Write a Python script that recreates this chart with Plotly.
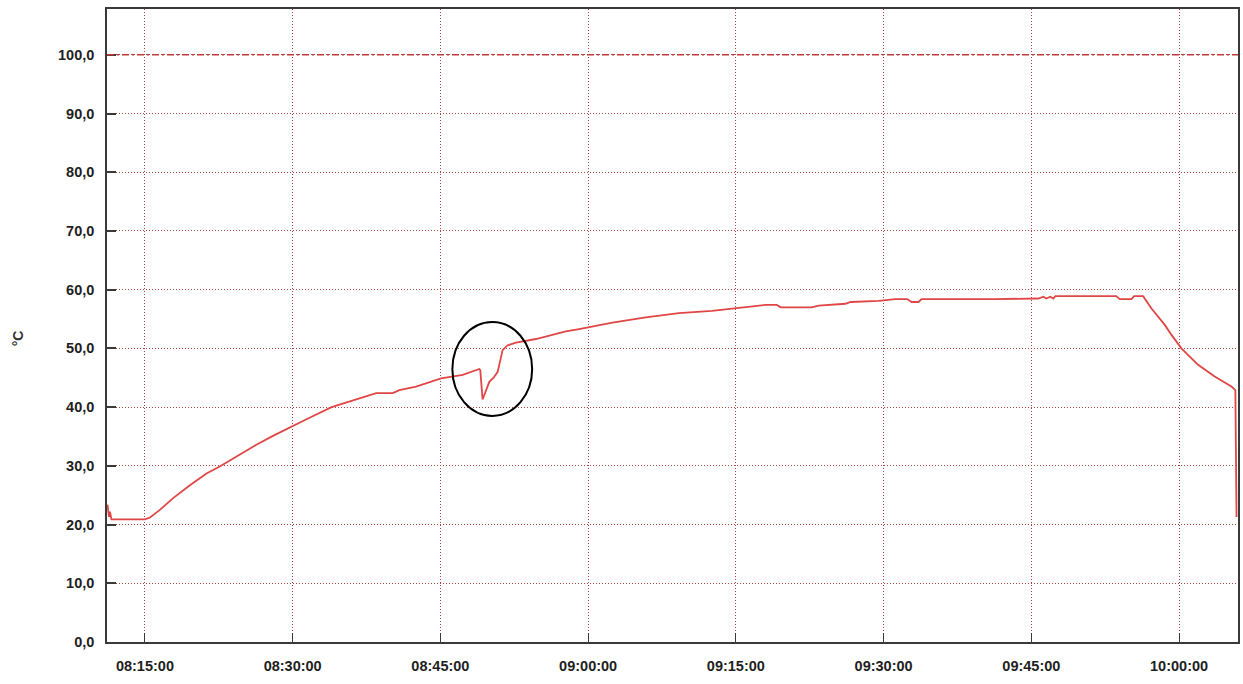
import plotly.graph_objects as go

# Logged temperature readings (time of day, °C)
times = [
    "08:11:12", "08:11:21", "08:11:27", "08:11:36", "08:15:00", "08:15:31",
    "08:16:31", "08:17:52", "08:19:34", "08:21:15", "08:22:36", "08:24:38",
    "08:26:19", "08:28:00", "08:29:52", "08:31:43", "08:33:57", "08:36:28",
    "08:38:29", "08:40:10", "08:40:50", "08:42:32", "08:43:53", "08:45:04",
    "08:47:16", "08:48:27", "08:48:57", "08:49:03", "08:49:17", "08:49:58",
    "08:50:24", "08:50:49", "08:51:19", "08:51:48", "08:52:40", "08:54:42",
    "08:57:44", "08:59:05", "09:02:28", "09:05:51", "09:09:13", "09:12:34",
    "09:14:58", "09:18:01", "09:19:09", "09:19:34", "09:22:42", "09:23:25",
    "09:26:07", "09:26:40", "09:29:30", "09:31:11", "09:32:24", "09:32:50",
    "09:33:33", "09:33:51", "09:41:19", "09:45:43", "09:46:13", "09:46:31",
    "09:46:56", "09:47:14", "09:47:26", "09:53:37", "09:53:59", "09:55:10",
    "09:55:26", "09:56:21", "09:57:12", "09:57:54", "09:58:33", "09:59:14",
    "10:00:14", "10:01:56", "10:03:37", "10:05:19", "10:05:43", "10:05:50",
]
temps = [
    23.4, 21.3, 22.2, 20.9, 20.9, 21.2,
    22.5, 24.5, 26.7, 28.7, 29.9, 31.9,
    33.6, 35.1, 36.7, 38.2, 40.0, 41.3,
    42.4, 42.4, 42.9, 43.5, 44.3, 44.9,
    45.5, 46.3, 46.5, 46.3, 41.3, 44.3,
    45.0, 46.0, 49.7, 50.5, 51.0, 51.6,
    52.9, 53.3, 54.4, 55.3, 56.0, 56.4,
    56.8, 57.4, 57.4, 57.0, 57.0, 57.3,
    57.6, 57.9, 58.1, 58.4, 58.4, 57.9,
    57.9, 58.4, 58.4, 58.5, 58.8, 58.5,
    58.8, 58.5, 58.9, 58.9, 58.4, 58.4,
    58.9, 58.9, 56.8, 55.3, 54.0, 52.3,
    50.0, 47.2, 45.2, 43.5, 42.9, 21.3,
]

limit_value = 100.0
x_ticks = ["08:15:00", "08:30:00", "08:45:00", "09:00:00",
           "09:15:00", "09:30:00", "09:45:00", "10:00:00"]
y_ticks = [0, 10, 20, 30, 40, 50, 60, 70, 80, 90, 100]
x_window = ["08:11:09", "10:05:59"]
y_window = [0, 107.8]

# Marked region around the dip
mark_x = ["08:46:13", "08:54:19"]
mark_y = [38.5, 54.5]

DAY = "2024-01-01 "


def ts(t):
    return DAY + t


grid_col = "#a84444"
axis_col = "#3a3a3a"
tick_font = dict(family="Liberation Sans, Arial, sans-serif", size=14.5,
                 color="#1e1e1e", weight="bold")

fig = go.Figure()
fig.add_trace(go.Scatter(
    x=[ts(t) for t in times], y=temps, mode="lines",
    line=dict(color="#e04646", width=1.8), showlegend=False,
))

fig.add_shape(type="line", xref="paper", x0=0, x1=1, yref="y",
              y0=limit_value, y1=limit_value,
              line=dict(color="#c03a3a", width=1.6, dash="7px,3px,2px,3px"))

fig.add_shape(type="circle", xref="x", yref="y",
              x0=ts(mark_x[0]), x1=ts(mark_x[1]), y0=mark_y[0], y1=mark_y[1],
              line=dict(color="black", width=2))

fig.add_annotation(text="°C", xref="paper", yref="paper",
                   x=(18 - 107) / 1133, y=0.48, showarrow=False,
                   textangle=-90, xanchor="center", yanchor="middle",
                   font=dict(family="Liberation Sans, Arial, sans-serif",
                             size=14, color="#333333", weight="bold"))

fig.update_layout(
    width=1243, height=684,
    margin=dict(l=107, r=3, t=9, b=42),
    paper_bgcolor="white", plot_bgcolor="white",
    separators=",.",
)

fig.update_xaxes(
    type="date",
    range=[ts(x_window[0]), ts(x_window[1])],
    tickvals=[ts(t) for t in x_ticks], ticktext=x_ticks,
    tickfont=tick_font, ticklabelstandoff=10,
    showline=True, linecolor=axis_col, linewidth=1.5, mirror=True,
    ticks="inside", ticklen=9, tickcolor=axis_col, tickwidth=1.2,
    showgrid=True, gridcolor=grid_col, griddash="1px,2px", gridwidth=1.2,
    zeroline=False,
)
fig.update_yaxes(
    range=y_window, tickvals=y_ticks, tickformat=".1f",
    tickfont=tick_font, ticklabelstandoff=8,
    showline=True, linecolor=axis_col, linewidth=1.5, mirror=True,
    ticks="inside", ticklen=9, tickcolor=axis_col, tickwidth=1.5,
    showgrid=True, gridcolor=grid_col, griddash="1px,2px", gridwidth=1.2,
    zeroline=False,
)

fig.write_html("out.html")
